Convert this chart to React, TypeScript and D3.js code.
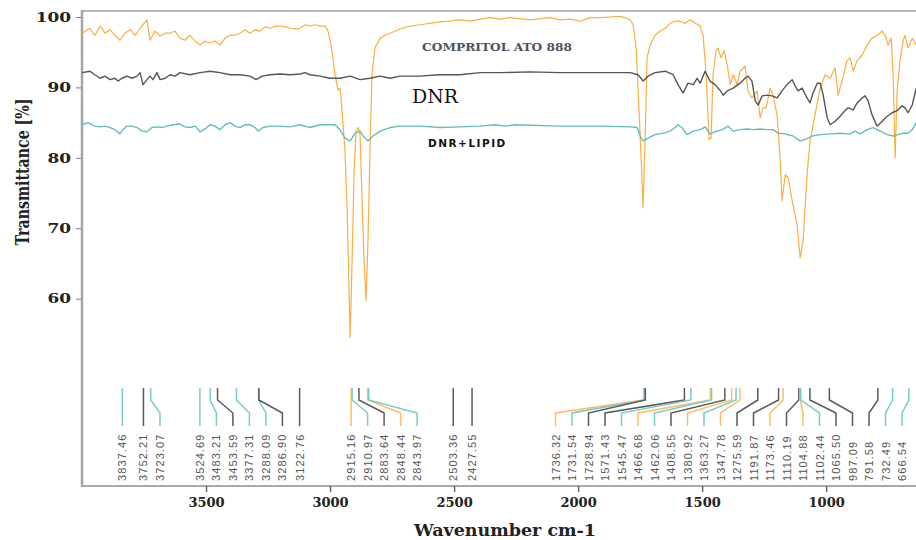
import React, { useEffect, useRef } from "react";
import * as d3 from "d3";

// FTIR spectra: [wavenumber cm-1, transmittance %]
const compritol: [number, number][] = [
  [4000, 97.7], [3968, 98.4], [3948, 97.4], [3927, 98.7], [3907, 97.7], [3887, 98.2], [3867, 97.4], [3847, 96.7],
  [3827, 97.7], [3806, 98.2], [3786, 97.4], [3766, 98.4], [3738, 99.6], [3726, 96.7], [3706, 98.0], [3685, 97.3],
  [3665, 97.7], [3645, 97.7], [3625, 98.0], [3605, 97.0], [3585, 96.7], [3565, 97.4], [3544, 96.6], [3524, 96.0],
  [3504, 96.6], [3484, 96.3], [3464, 96.6], [3444, 96.0], [3423, 97.0], [3403, 97.4], [3383, 97.4], [3363, 97.7],
  [3343, 98.2], [3323, 97.7], [3302, 98.2], [3282, 98.0], [3262, 98.6], [3242, 98.4], [3222, 98.7], [3202, 98.7],
  [3181, 98.6], [3161, 98.4], [3141, 98.3], [3121, 98.4], [3101, 98.9], [3081, 98.7], [3061, 98.9], [3040, 98.7],
  [3020, 98.7], [3008, 98.0], [2992, 95.2], [2980, 91.8], [2968, 89.6], [2960, 89.9], [2956, 88.7], [2948, 85.0],
  [2940, 81.1], [2931, 72.6], [2919, 54.5], [2911, 65.5], [2903, 78.3], [2895, 83.8], [2887, 84.3], [2879, 83.3],
  [2871, 74.0], [2863, 65.5], [2855, 59.7], [2847, 68.4], [2839, 81.1], [2831, 91.8], [2819, 95.6], [2798, 97.0],
  [2778, 97.4], [2758, 97.7], [2718, 98.3], [2677, 98.7], [2637, 98.9], [2557, 99.3], [2516, 99.4], [2476, 99.6],
  [2436, 99.4], [2395, 99.7], [2355, 99.9], [2315, 99.7], [2274, 99.9], [2194, 99.6], [2113, 99.9], [2073, 99.6],
  [2032, 99.7], [1992, 99.4], [1952, 99.9], [1911, 99.9], [1871, 100.0], [1831, 100.1], [1811, 99.9], [1790, 99.6],
  [1778, 98.9], [1766, 95.6], [1758, 89.5], [1746, 80.0], [1738, 72.9], [1730, 82.4], [1722, 94.2], [1710, 96.0],
  [1690, 97.4], [1669, 98.0], [1649, 98.4], [1629, 99.1], [1609, 99.4], [1589, 99.4], [1569, 99.1], [1549, 99.6],
  [1528, 99.1], [1508, 98.7], [1496, 97.4], [1484, 91.8], [1472, 82.6], [1464, 82.8], [1456, 91.8], [1444, 95.2],
  [1436, 95.6], [1424, 94.2], [1411, 95.2], [1399, 93.2], [1387, 90.4], [1375, 91.8], [1359, 90.4], [1347, 92.3],
  [1327, 93.0], [1315, 89.5], [1299, 88.5], [1278, 89.5], [1266, 85.7], [1254, 87.1], [1242, 87.1], [1226, 89.9],
  [1214, 88.9], [1198, 86.1], [1186, 80.0], [1178, 73.9], [1165, 77.6], [1153, 77.2], [1137, 73.9], [1117, 70.5],
  [1105, 65.8], [1093, 68.2], [1077, 77.6], [1065, 82.4], [1045, 86.1], [1024, 89.9], [1004, 91.8], [984, 91.3],
  [964, 92.8], [952, 88.9], [936, 90.9], [916, 93.8], [903, 94.2], [891, 92.3], [875, 93.8], [855, 94.6],
  [835, 96.0], [815, 97.0], [795, 97.4], [774, 98.0], [762, 97.4], [750, 96.0], [738, 97.0], [730, 91.8],
  [722, 80.0], [714, 89.5], [702, 93.8], [690, 96.6], [682, 97.4], [670, 95.6], [653, 97.0], [637, 96.0],
];

const dnr: [number, number][] = [
  [4000, 92.1], [3968, 92.3], [3948, 91.8], [3927, 91.3], [3907, 91.6], [3887, 91.1], [3867, 91.3], [3855, 90.9],
  [3839, 91.3], [3819, 91.6], [3798, 91.3], [3778, 91.6], [3766, 92.1], [3754, 90.4], [3738, 91.1], [3726, 91.6],
  [3714, 91.1], [3698, 92.1], [3685, 91.1], [3665, 91.3], [3645, 91.8], [3625, 91.6], [3605, 92.1], [3565, 91.8],
  [3524, 92.1], [3484, 92.3], [3444, 92.1], [3403, 91.8], [3363, 91.8], [3323, 91.6], [3298, 91.1], [3274, 91.6],
  [3242, 91.8], [3202, 91.9], [3161, 91.8], [3121, 91.9], [3101, 92.1], [3081, 91.8], [3040, 91.6], [3000, 91.3],
  [2960, 91.3], [2919, 91.6], [2879, 91.1], [2839, 91.3], [2798, 91.6], [2758, 91.3], [2718, 91.6], [2637, 91.6],
  [2557, 91.8], [2476, 91.8], [2395, 92.1], [2315, 92.1], [2194, 92.2], [2073, 92.1], [1911, 92.1], [1790, 92.1],
  [1758, 91.8], [1738, 90.9], [1718, 91.6], [1690, 92.1], [1649, 92.3], [1617, 91.8], [1597, 90.4], [1577, 89.2],
  [1557, 90.6], [1536, 90.4], [1520, 91.3], [1508, 90.6], [1488, 92.3], [1468, 90.9], [1448, 90.4], [1428, 89.6],
  [1415, 88.9], [1399, 89.5], [1375, 89.9], [1347, 90.6], [1327, 91.3], [1315, 91.6], [1299, 90.9], [1286, 88.1],
  [1274, 87.5], [1258, 88.8], [1238, 88.9], [1218, 88.8], [1198, 88.5], [1178, 89.5], [1153, 90.6], [1137, 91.1],
  [1125, 90.2], [1113, 89.5], [1097, 89.9], [1077, 88.5], [1065, 87.8], [1053, 89.2], [1036, 90.6], [1024, 90.6],
  [1012, 88.9], [996, 85.7], [984, 84.7], [964, 85.2], [944, 85.9], [924, 86.7], [911, 87.1], [891, 86.8],
  [875, 87.8], [855, 88.5], [843, 88.8], [831, 88.1], [815, 86.1], [795, 84.5], [774, 85.2], [754, 85.9],
  [734, 86.4], [714, 86.7], [694, 87.4], [682, 87.1], [670, 86.4], [653, 87.5], [637, 89.9],
];

const dnrLipid: [number, number][] = [
  [4000, 84.7], [3976, 85.0], [3948, 84.5], [3927, 84.4], [3907, 84.5], [3887, 84.3], [3867, 84.0], [3847, 83.4],
  [3835, 84.0], [3819, 84.5], [3798, 84.5], [3778, 84.3], [3758, 83.8], [3738, 83.7], [3718, 84.3], [3698, 84.4],
  [3677, 84.3], [3657, 84.5], [3633, 84.7], [3605, 84.8], [3585, 84.4], [3565, 84.3], [3544, 84.5], [3532, 84.0],
  [3524, 83.7], [3504, 84.1], [3484, 84.7], [3464, 84.5], [3444, 84.0], [3423, 84.7], [3403, 85.0], [3383, 84.5],
  [3363, 84.3], [3343, 84.7], [3323, 84.7], [3302, 84.3], [3290, 83.8], [3270, 84.3], [3242, 84.5], [3202, 84.5],
  [3161, 84.4], [3121, 84.7], [3081, 84.3], [3040, 84.7], [3000, 84.7], [2980, 84.7], [2960, 84.0], [2940, 82.8],
  [2919, 82.4], [2899, 83.5], [2879, 83.8], [2867, 83.1], [2847, 82.4], [2827, 83.1], [2798, 83.8], [2758, 84.3],
  [2718, 84.5], [2637, 84.5], [2557, 84.3], [2476, 84.4], [2395, 84.5], [2335, 84.7], [2294, 84.5], [2254, 84.7],
  [2073, 84.5], [1911, 84.5], [1790, 84.4], [1762, 84.3], [1750, 83.1], [1738, 82.4], [1718, 82.8], [1690, 83.3],
  [1657, 83.5], [1629, 83.8], [1609, 84.3], [1597, 84.7], [1581, 84.3], [1561, 83.3], [1536, 83.8], [1508, 84.0],
  [1488, 84.4], [1468, 83.4], [1448, 83.7], [1419, 84.0], [1395, 84.5], [1375, 83.8], [1347, 84.0], [1319, 84.1],
  [1294, 84.0], [1266, 84.1], [1238, 84.0], [1214, 84.0], [1194, 83.5], [1165, 83.4], [1133, 83.1], [1105, 82.4],
  [1085, 82.6], [1057, 83.1], [1024, 83.3], [984, 83.4], [944, 83.5], [903, 83.4], [883, 83.8], [863, 83.4],
  [835, 84.0], [811, 84.3], [782, 83.8], [754, 83.3], [730, 83.1], [710, 83.3], [690, 83.5], [670, 83.5],
  [653, 84.0], [637, 85.0],
];

// peak picks and the spectrum each belongs to (C = Compritol, D = DNR, L = DNR+LIPID)
const peakWavenumbers = [
  3837.46, 3752.21, 3723.07, 3524.69, 3483.21, 3453.59, 3377.31, 3288.09, 3286.9, 3122.76,
  2915.16, 2910.97, 2883.64, 2848.44, 2843.97, 2503.36, 2427.55,
  1736.32, 1731.54, 1728.94, 1571.43, 1545.47, 1466.68, 1462.06, 1408.55, 1380.92, 1363.27, 1347.78,
  1275.59, 1191.87, 1173.46, 1110.19, 1104.88, 1102.44, 1065.5, 987.09, 791.58, 732.49, 666.54,
];
const peakSeries = [
  "L", "D", "L", "L", "L", "D", "L", "L", "D", "D",
  "C", "L", "D", "C", "L", "D", "D",
  "C", "L", "D", "D", "L", "C", "L", "D", "C", "L", "C",
  "D", "D", "C", "D", "C", "L", "D", "D", "D", "L", "L",
];

const xTicks = [3500, 3000, 2500, 2000, 1500, 1000];
const yTicks = [60, 70, 80, 90, 100];

const colors: Record<string, string> = { C: "#f9a52f", D: "#555555", L: "#66bcbc" };
const markColors: Record<string, string> = { C: "#fbbf63", D: "#5a5a5a", L: "#7ccaca" };

// push labels apart so they do not overlap, keep them left of maxX
function spreadLabels(xs: number[], gap: number, maxX: number) {
  const pos = xs.slice();
  for (let i = 1; i < pos.length; i++) pos[i] = Math.max(pos[i], pos[i - 1] + gap);
  pos[pos.length - 1] = Math.min(pos[pos.length - 1], maxX);
  for (let i = pos.length - 2; i >= 0; i--) pos[i] = Math.min(pos[i], pos[i + 1] - gap);
  return pos;
}

export default function App() {
  const svgRef = useRef<SVGSVGElement>(null);

  useEffect(() => {
    const svg = d3.select(svgRef.current);
    svg.selectAll("*").remove();

    const x = d3.scaleLinear().domain([4000, 400]).range([82, 975]);
    const y = d3.scaleLinear().domain([33.4, 100.85]).range([486, 11]);

    // frame
    svg.append("line").attr("x1", 82).attr("x2", 916).attr("y1", 11).attr("y2", 11)
      .attr("stroke", "#b8b8b8").attr("stroke-width", 2);
    svg.append("line").attr("x1", 81).attr("x2", 916).attr("y1", 486).attr("y2", 486)
      .attr("stroke", "#8c8c8c").attr("stroke-width", 1.5);

    // y axis
    const yAxis = d3.axisLeft(y).tickValues(yTicks).tickSize(5).tickPadding(5).tickFormat(d3.format("d"));
    const gy = svg.append("g").attr("transform", "translate(81,0)").call(yAxis);
    gy.select(".domain").remove();
    gy.selectAll("line").attr("stroke", "#777");
    gy.selectAll<SVGTextElement, number>("text")
      .attr("font-family", "'DejaVu Serif', serif").attr("font-weight", "bold")
      .attr("font-size", 13).attr("fill", "#222")
      .each(function () {
        const len = this.getComputedTextLength();
        d3.select(this).attr("textLength", len * 1.3).attr("lengthAdjust", "spacingAndGlyphs");
      });
    svg.append("line").attr("x1", 82).attr("x2", 82).attr("y1", 10).attr("y2", 487)
      .attr("stroke", "#a5a5a5").attr("stroke-width", 2.5);

    // x axis
    const xAxis = d3.axisBottom(x).tickValues(xTicks).tickSize(6).tickPadding(6).tickFormat(d3.format("d"));
    const gx = svg.append("g").attr("transform", "translate(0,486)").call(xAxis);
    gx.select(".domain").remove();
    gx.selectAll("line").attr("stroke", "#666").attr("stroke-width", 1.5);
    gx.selectAll("text")
      .attr("font-family", "'DejaVu Serif', serif").attr("font-weight", "bold")
      .attr("font-size", 13).attr("fill", "#222");

    // axis titles
    svg.append("text").text("Wavenumber cm-1")
      .attr("x", 505).attr("y", 536).attr("text-anchor", "middle")
      .attr("font-family", "'DejaVu Serif', serif").attr("font-weight", "bold").attr("font-size", 17)
      .attr("fill", "#222").attr("textLength", 182).attr("lengthAdjust", "spacingAndGlyphs");
    svg.append("text").text("Transmittance [%]")
      .attr("transform", "translate(23,172) rotate(-90) scale(1,1.4)")
      .attr("text-anchor", "middle").attr("dominant-baseline", "central")
      .attr("font-family", "'DejaVu Serif', serif").attr("font-weight", "bold").attr("font-size", 13)
      .attr("fill", "#222").attr("textLength", 147).attr("lengthAdjust", "spacingAndGlyphs");

    // spectra
    const line = d3.line<[number, number]>().x((d) => x(d[0])).y((d) => y(d[1]));
    const spectra: [string, [number, number][]][] = [["C", compritol], ["D", dnr], ["L", dnrLipid]];
    spectra.forEach(([key, data]) => {
      svg.append("path").datum(data).attr("d", line).attr("fill", "none")
        .attr("stroke", colors[key]).attr("stroke-width", key === "C" ? 1.2 : 1.4)
        .attr("stroke-opacity", key === "C" ? 0.9 : 1).attr("stroke-linejoin", "round");
    });

    // in-plot labels
    svg.append("text").text("COMPRITOL ATO 888")
      .attr("x", 422).attr("y", 51)
      .attr("font-family", "'DejaVu Serif', serif").attr("font-weight", "bold").attr("font-size", 10.5)
      .attr("fill", "#4d5361").attr("textLength", 150).attr("lengthAdjust", "spacingAndGlyphs");
    svg.append("text").text("DNR")
      .attr("x", 412).attr("y", 103)
      .attr("font-family", "'DejaVu Serif', serif").attr("font-size", 18)
      .attr("fill", "#111").attr("textLength", 46).attr("lengthAdjust", "spacingAndGlyphs");
    svg.append("text").text("DNR+LIPID")
      .attr("x", 428).attr("y", 147)
      .attr("font-family", "'DejaVu Sans', sans-serif").attr("font-weight", "bold").attr("font-size", 10.5)
      .attr("letter-spacing", 1.5).attr("fill", "#111");

    // peak annotations
    const tops = peakWavenumbers.map((w) => x(w));
    const labelX = spreadLabels(tops, 16.5, 902);
    const fmt = d3.format(".2f");
    const gp = svg.append("g");
    peakWavenumbers.forEach((w, i) => {
      const tx = tops[i];
      const lx = labelX[i];
      const key = peakSeries[i];
      gp.append("path")
        .attr("d", d3.line()([[tx, 388], [tx, 400], [lx, 413], [lx, 426]]))
        .attr("fill", "none").attr("stroke", markColors[key]).attr("stroke-width", 1.5);
      gp.append("text").text(fmt(w))
        .attr("transform", `translate(${lx + 4},481) rotate(-90)`)
        .attr("font-family", "'Liberation Sans', Arial, sans-serif").attr("font-size", 11)
        .attr("letter-spacing", 1.1).attr("fill", "#555");
    });
  }, []);

  return (
    <svg
      ref={svgRef}
      width={916}
      height={540}
      style={{ position: "absolute", left: 0, top: 0, background: "#fff", overflow: "hidden" }}
    />
  );
}
